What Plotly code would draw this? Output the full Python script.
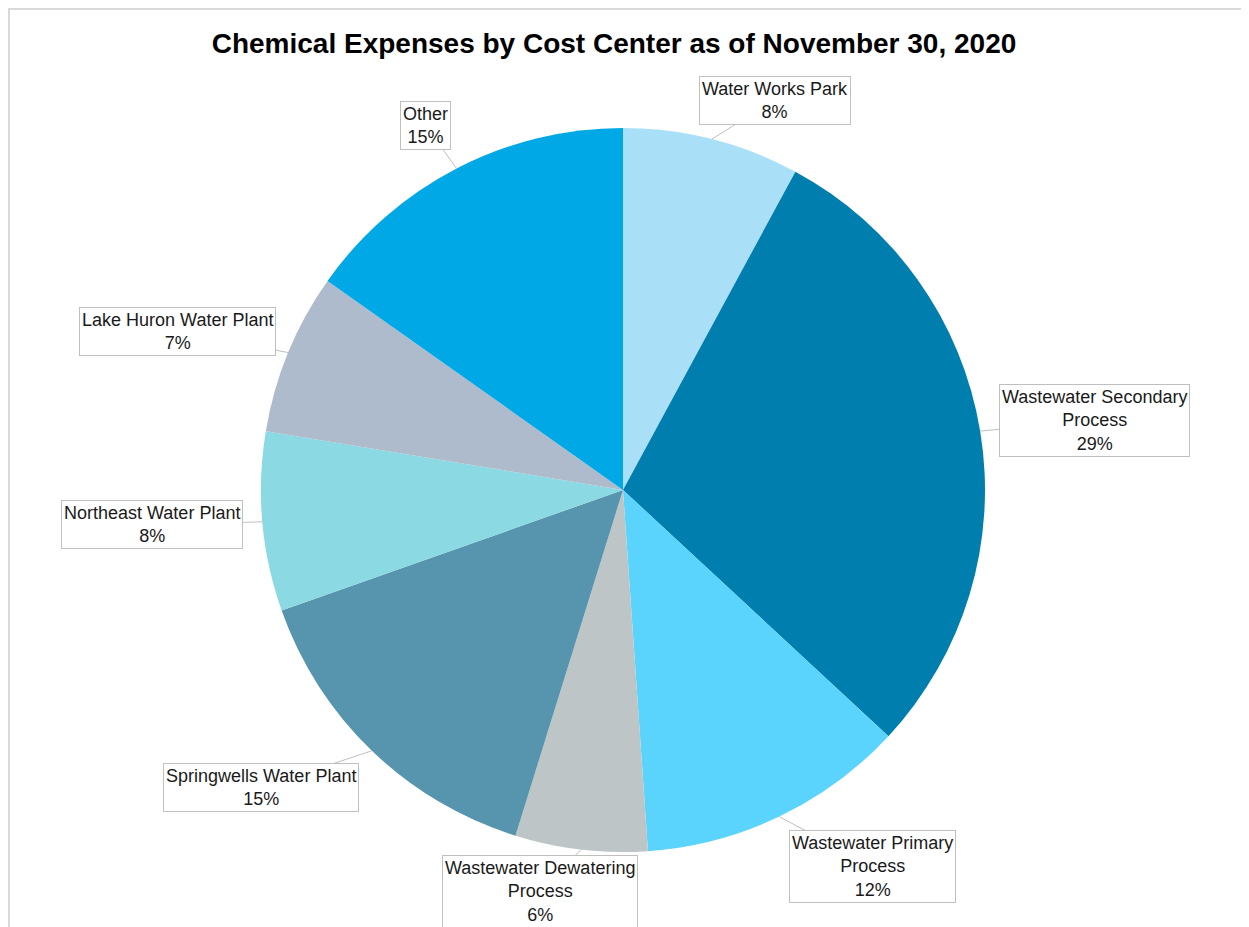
import math
import plotly.graph_objects as go

# ---- data ----
categories = [
    "Water Works Park",
    "Wastewater Secondary Process",
    "Wastewater Primary Process",
    "Wastewater Dewatering Process",
    "Springwells Water Plant",
    "Northeast Water Plant",
    "Lake Huron Water Plant",
    "Other",
]
label_text = [
    "Water Works Park",
    "Wastewater Secondary<br>Process",
    "Wastewater Primary<br>Process",
    "Wastewater Dewatering<br>Process",
    "Springwells Water Plant",
    "Northeast Water Plant",
    "Lake Huron Water Plant",
    "Other",
]
values = [7.9, 29.0, 12.0, 5.9, 14.8, 8.0, 7.2, 15.2]

# ---- style ----
colors = ["#A9E0F8", "#007FAE", "#5BD4FD", "#BEC5C6", "#5695AD", "#8AD9E3", "#ADBBCC", "#00A8E5"]
# label box offsets from slice edge (pixels)
label_offsets = [(63, -39), (114, -11), (93, 50), (-41, 42), (-111, 37), (-110, 3), (-111, -21), (-31, -43)]

W, H = 1249, 927
off = 8  # page body margin
cx, cy, R = 623 - off, 490 - off, 362

fig = go.Figure(go.Pie(
    labels=categories,
    values=values,
    sort=False,
    direction="clockwise",
    rotation=0,
    textinfo="none",
    hoverinfo="label+percent",
    marker=dict(colors=colors, line=dict(width=0)),
    domain=dict(x=[(cx - R) / W, (cx + R) / W], y=[(H - cy - R) / H, (H - cy + R) / H]),
    showlegend=False,
))

total = sum(values)
annotations = []
cum = 0.0
for i, v in enumerate(values):
    mid = (cum + v / 2) / total * 2 * math.pi
    cum += v
    px = cx + R * math.sin(mid)
    py = cy - R * math.cos(mid)
    pct = round(v / total * 100)
    ax, ay = label_offsets[i]
    annotations.append(dict(
        x=px / W, y=1 - py / H, xref="paper", yref="paper",
        text=f"{label_text[i]}<br>{pct}%",
        showarrow=True, arrowhead=0, arrowwidth=1, arrowcolor="#BFBFBF",
        ax=ax, ay=ay,
        bordercolor="#BFBFBF", borderwidth=1, borderpad=2, bgcolor="white",
        font=dict(family="Liberation Sans, Arial", size=18, color="#1A1A1A"),
        align="center",
    ))

fig.update_layout(
    width=W, height=H,
    margin=dict(l=0, r=0, t=0, b=0),
    paper_bgcolor="white",
    title=dict(
        text="<b>Chemical Expenses by Cost Center as of November 30, 2020</b>",
        x=(614 - off) / W, xanchor="center", y=1 - (43 - off) / H, yanchor="middle",
        font=dict(family="Liberation Sans, Arial", size=28, color="black"),
    ),
    annotations=annotations,
    shapes=[
        dict(type="line", xref="paper", yref="paper", x0=0, x1=1, y0=1 - 1 / H, y1=1 - 1 / H,
             line=dict(color="#D9D9D9", width=2)),
        dict(type="line", xref="paper", yref="paper", x0=1 / W, x1=1 / W, y0=0, y1=1,
             line=dict(color="#D9D9D9", width=2)),
    ],
)

fig.write_html("out.html")
